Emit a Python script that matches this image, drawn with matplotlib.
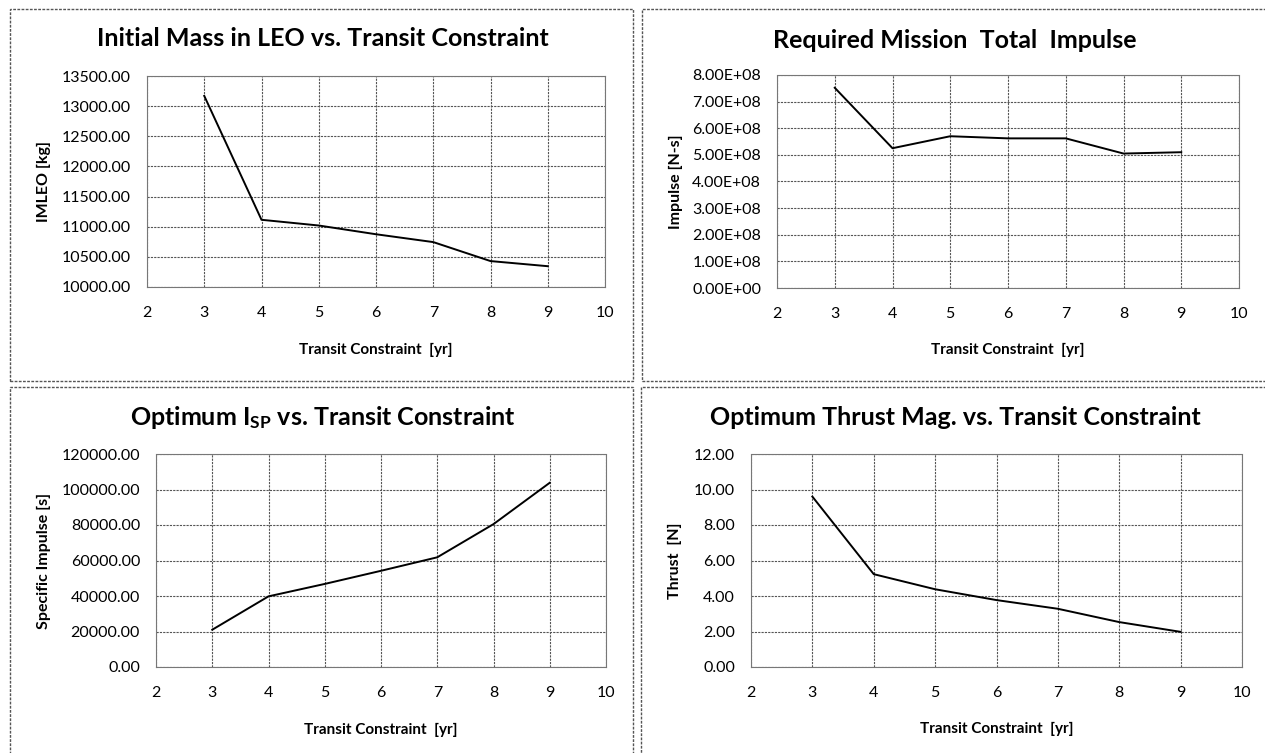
import matplotlib
matplotlib.use("Agg")
from matplotlib import pyplot
from matplotlib.patches import Rectangle
from matplotlib.ticker import FormatStrFormatter, MultipleLocator

W, H = 1265, 753

years = [3, 4, 5, 6, 7, 8, 9]
imleo = [13170, 11115, 11020, 10875, 10745, 10430, 10345]
impulse = [7.52e8, 5.25e8, 5.70e8, 5.62e8, 5.62e8, 5.05e8, 5.10e8]
isp = [21000, 39800, 46800, 54200, 61800, 80500, 103800]
thrust = [9.6, 5.23, 4.38, 3.77, 3.28, 2.53, 1.98]

pyplot.rcParams["font.family"] = ["Lato", "DejaVu Sans"]
pyplot.rcParams["mathtext.fontset"] = "custom"
pyplot.rcParams["mathtext.rm"] = "Lato"
pyplot.rcParams["mathtext.bf"] = "Lato:bold"

grid_col = "#555555"


def fx(px):
    return px / W


def fy(py):
    return 1 - py / H


def make_panel(fig, box, data, ylim, ystep, fmt, title, ylabel, title_xy, xlab_y, ylab_x):
    left, right, top, bottom = box
    ax = fig.add_axes([fx(left), fy(bottom), (right - left) / W, (bottom - top) / H])
    ax.plot(years, data, color="black", linewidth=1.4)
    ax.set_xlim(2, 10)
    ax.set_ylim(*ylim)
    ax.xaxis.set_major_locator(MultipleLocator(1))
    ax.yaxis.set_major_locator(MultipleLocator(ystep))
    ax.yaxis.set_major_formatter(FormatStrFormatter(fmt))
    ax.grid(True, color=grid_col, linestyle=(0, (2, 1)), linewidth=0.8)
    ax.set_axisbelow(True)
    for s in ax.spines.values():
        s.set_color("#777777")
        s.set_linestyle((0, (2, 1)))
        s.set_linewidth(0.8)
    ax.tick_params(length=0, labelsize=11.5)
    ax.tick_params(axis="y", pad=11.5)
    ax.tick_params(axis="x", pad=14)

    fig.text(fx(title_xy[0]), fy(title_xy[1]), title, ha="center", va="center",
             fontsize=18, fontweight="bold")
    fig.text(fx((left + right) / 2), fy(xlab_y), "Transit Constraint  [yr]", ha="center",
             va="center", fontsize=11, fontweight="bold")
    fig.text(fx(ylab_x), fy((top + bottom) / 2), ylabel, ha="center", va="center",
             rotation=90, fontsize=11.5, fontweight="bold")
    return ax


fig = pyplot.figure(figsize=(W / 100, H / 100), dpi=100)

# panel frames
for x0, y0, x1, y1 in [(10, 9, 633, 381), (642, 9, 1290, 381),
                       (10, 387, 633, 780), (641, 387, 1290, 780)]:
    fig.patches.append(Rectangle((fx(x0), fy(y1)), (x1 - x0) / W, (y1 - y0) / H,
                                 transform=fig.transFigure, fill=False,
                                 edgecolor="#555555", linestyle=(0, (2, 1)), linewidth=1))

make_panel(fig, (147, 605, 76, 287), imleo, (10000, 13500), 500, "%.2f",
           "Initial Mass in LEO vs. Transit Constraint", "IMLEO [kg]", (323, 39), 350, 44)

ax2 = make_panel(fig, (777, 1239, 75, 288), impulse, (0, 8e8), 1e8, "%.2f",
                 "Required Mission  Total  Impulse", "Impulse [N-s]", (955, 40), 350, 676)
ax2.yaxis.set_major_formatter(pyplot.FuncFormatter(lambda v, p: f"{v:.2E}"))

make_panel(fig, (156, 606, 454, 667), isp, (0, 120000), 20000, "%.2f",
           r"Optimum $\mathbf{I_{SP}}$ vs. Transit Constraint", "Specific Impulse [s]",
           (323, 418), 730, 44)

make_panel(fig, (751, 1242, 454, 667), thrust, (0, 12), 2, "%.2f",
           "Optimum Thrust Mag. vs. Transit Constraint", "Thrust  [N]", (955, 418), 729, 675)

pyplot.savefig("out.png", dpi=100)
